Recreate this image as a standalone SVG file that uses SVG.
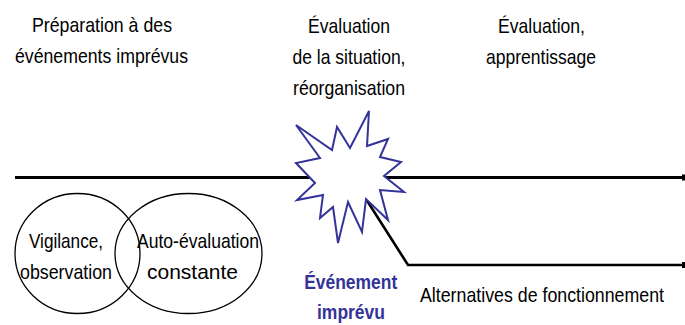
<svg xmlns="http://www.w3.org/2000/svg" width="685" height="325" viewBox="0 0 685 325">
<style>
.t{font-family:"Liberation Sans Narrow","Liberation Sans",Arial,sans-serif;font-size:21px;fill:#000;text-anchor:middle}
.b{font-weight:bold;fill:#333399}
.ln{stroke:#000;fill:none}
.el{stroke:#000;stroke-width:1.3;fill:none}
</style>
<g id="connectors">
<line class="ln" x1="15" y1="177.5" x2="683" y2="177.5" stroke-width="3"/>
<rect x="682" y="174.5" width="3" height="6" fill="#000"/>
<polyline class="ln" points="366,199 408,265 683,265" stroke-width="2.6"/>
<rect x="682" y="262" width="3" height="6" fill="#000"/>
</g>
<g id="node-prep">
<text class="t" x="102" y="32" textLength="140" lengthAdjust="spacingAndGlyphs">Préparation à des</text>
<text class="t" x="101.5" y="62.5" textLength="173" lengthAdjust="spacingAndGlyphs">événements imprévus</text>
</g>
<g id="node-eval-situation">
<text class="t" x="349" y="33" textLength="82" lengthAdjust="spacingAndGlyphs">Évaluation</text>
<text class="t" x="349" y="64" textLength="113" lengthAdjust="spacingAndGlyphs">de la situation,</text>
<text class="t" x="349" y="94.5" textLength="112" lengthAdjust="spacingAndGlyphs">réorganisation</text>
</g>
<g id="node-eval-apprentissage">
<text class="t" x="541.5" y="33" textLength="87" lengthAdjust="spacingAndGlyphs">Évaluation,</text>
<text class="t" x="541" y="63.5" textLength="110" lengthAdjust="spacingAndGlyphs">apprentissage</text>
</g>
<g id="node-vigilance">
<ellipse class="el" cx="77.5" cy="253.5" rx="62.5" ry="60"/>
<text class="t" x="66" y="248" textLength="74" lengthAdjust="spacingAndGlyphs">Vigilance,</text>
<text class="t" x="66" y="278.5" textLength="92" lengthAdjust="spacingAndGlyphs">observation</text>
</g>
<g id="node-autoeval">
<ellipse class="el" cx="188.5" cy="253.5" rx="73.5" ry="60"/>
<text class="t" x="198" y="248" textLength="122" lengthAdjust="spacingAndGlyphs">Auto-évaluation</text>
<text class="t" x="192.5" y="278.5" textLength="91" lengthAdjust="spacingAndGlyphs">constante</text>
</g>
<g id="node-event">
<polygon points="296,125 332,150 337,127 350,148 369,111 367,146 388,139 380,157 401,162 384,176 404,192 380,190 388,220 366,199 362,232 348,202 338,243 333,207 320,218 323,195 297,200 315,183 296,163 320,158" fill="#fff" stroke="#333399" stroke-width="2" stroke-linejoin="miter"/>
<text class="t b" x="350.7" y="288.5" textLength="93" lengthAdjust="spacingAndGlyphs">Événement</text>
<text class="t b" x="351" y="318.5" textLength="68" lengthAdjust="spacingAndGlyphs">imprévu</text>
</g>
<g id="node-alternatives">
<text class="t" x="542" y="302" textLength="244" lengthAdjust="spacingAndGlyphs">Alternatives de fonctionnement</text>
</g>
</svg>
